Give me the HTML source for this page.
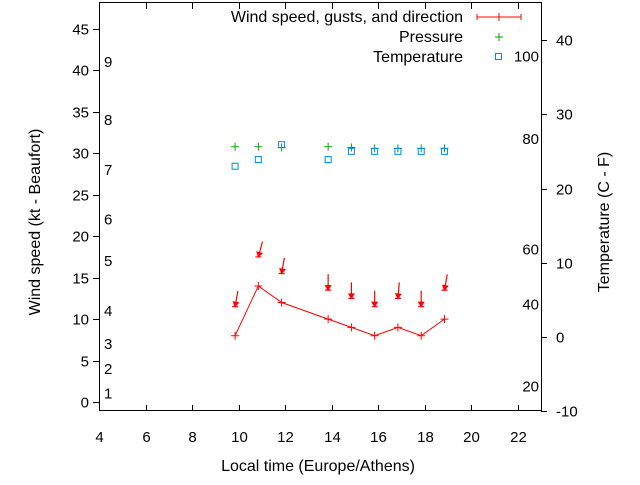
<!DOCTYPE html>
<html><head><meta charset="utf-8"><style>
body{margin:0;background:#fff}
svg text{font-family:"Liberation Sans",sans-serif;font-size:15px;fill:#000}
svg text.big{font-size:16px}
</style></head><body>
<svg id="c" width="640" height="480" xmlns="http://www.w3.org/2000/svg">
<rect x="0" y="0" width="640" height="480" fill="#fff"/>
<g id="axes"></g>
<g id="marks"></g>
<text class="big" x="318" y="471" text-anchor="middle">Local time (Europe/Athens)</text>
<text class="big" transform="translate(40,222) rotate(-90)" text-anchor="middle">Wind speed (kt - Beaufort)</text>
<text class="big" transform="translate(609,222) rotate(-90)" text-anchor="middle">Temperature (C - F)</text>
<g>
<text class="big" x="463" y="22" text-anchor="end">Wind speed, gusts, and direction</text>
<text class="big" x="463" y="42" text-anchor="end">Pressure</text>
<text class="big" x="463" y="62" text-anchor="end">Temperature</text>
<g stroke="#f00" stroke-width="1"><line x1="477" y1="17" x2="521" y2="17"/><line x1="477" y1="14" x2="477" y2="20"/><line x1="521" y1="14" x2="521" y2="20"/><line x1="499" y1="13" x2="499" y2="21"/></g>
<g stroke="#0a0"><line x1="495" y1="37" x2="503" y2="37"/><line x1="499" y1="33" x2="499" y2="41"/></g>
<rect x="495.5" y="53.5" width="6" height="6" fill="none" stroke="#08f"/>
</g>
</svg>
<script>
const times=[9.85,10.85,11.85,13.85,14.85,15.85,16.85,17.85,18.85];
const windKt=[8,14,12,10,9,8,9,8,10];
const gustKt=[11.5,17.5,15.5,13.5,12.5,11.5,12.5,11.5,13.5];
const windDirDeg=[10,15,10,0,0,0,5,0,10];
const pressure=[30.8,30.8,30.7,30.8,30.7,30.6,30.6,30.6,30.6];
const tempC=[23.0,23.9,25.9,23.9,25.0,25.0,25.0,25.0,25.0];
const xTicks=[4,6,8,10,12,14,16,18,20,22];
const yTicks=[0,5,10,15,20,25,30,35,40,45];
const y2Ticks=[-10,0,10,20,30,40];
const beaufortLabels=["1","2","3","4","5","6","7","8","9"];
const beaufortKt=[1,4,7,11,17,22,28,34,41];
const fahrLabels=["20","40","60","80","100"];
const fahrC=[-6.7,4.4,11.8,26.7,37.8];

const L=99,R=541,T=3,B=411;
const X=t=>L+(t-4)*(R-L)/19;
const Y=k=>402-k*(402-29)/45;
const Y2=c=>337-c*(337-40)/40;
const NS="http://www.w3.org/2000/svg";
const ax=document.getElementById('axes'),mk=document.getElementById('marks');
function el(p,tag,a){const e=document.createElementNS(NS,tag);for(const k in a)e.setAttribute(k,a[k]);p.appendChild(e);return e;}
const frame=el(ax,'rect',{x:L+.5,y:T-.5,width:R-L,height:B-T,fill:'none',stroke:'#000'});


xTicks.forEach(t=>{
 const x=Math.round(X(t))+.5;
 const tk=el(ax,'path',{d:`M${x} ${B} v-6 M${x} ${T} v6`,stroke:'#000'});
 
 
 const tx=el(ax,'text',{x:x,y:442,'text-anchor':'middle'});tx.textContent=t;
 
 
});
yTicks.forEach(v=>{
 const y=Math.round(Y(v))+.5;
 const tk=el(ax,'path',{d:`M${L} ${y} h-6`,stroke:'#000'});
 
 
 const tx=el(ax,'text',{x:89,y:y+5,'text-anchor':'end'});tx.textContent=v;
 
 
});
y2Ticks.forEach(v=>{
 const y=Math.round(Y2(v))+.5;
 const tk=el(ax,'path',{d:`M${R} ${y} h6`,stroke:'#000'});
 
 
 const tx=el(ax,'text',{x:556,y:y+5,'text-anchor':'start'});tx.textContent=v;
 
 
});
beaufortLabels.forEach((s,i)=>{
 const tx=el(ax,'text',{x:104,y:Y(beaufortKt[i])+5});tx.textContent=s;
 
 
});
fahrLabels.forEach((s,i)=>{
 const tx=el(ax,'text',{x:539,y:Y2(fahrC[i])+5,'text-anchor':'end'});tx.textContent=s;
 
 
});
const line=el(mk,'polyline',{points:times.map((t,i)=>X(t)+','+Y(windKt[i])).join(' '),fill:'none',stroke:'#f00','stroke-width':1});


times.forEach((t,i)=>{
 const x=X(t),y=Y(windKt[i]);
 const p=el(mk,'path',{d:`M${x-4} ${y}h8M${x} ${y-4}v8`,stroke:'#f00'});
 
 
 const gy=Y(gustKt[i]),a=windDirDeg[i]*Math.PI/180,len=16;
 const tx2=x+Math.sin(a)*len,ty2=gy-Math.cos(a)*len;
 const g=el(mk,'path',{d:`M${tx2} ${ty2}L${x} ${gy}M${x-3} ${gy}h6`,stroke:'#f00',fill:'none','stroke-width':1.2});
 
 
 const hd=el(mk,'path',{d:`M${x-3.5} ${gy-5}L${x} ${gy+1}L${x+3.5} ${gy-5}Z`,fill:'#f00',stroke:'none',transform:`rotate(${windDirDeg[i]} ${x} ${gy})`});
 
 
 const pp=el(mk,'path',{d:`M${x-4} ${Y(pressure[i])}h8M${x} ${Y(pressure[i])-4}v8`,stroke:'#0a0'});
 
 
 const sq=el(mk,'rect',{x:x-3,y:Y2(tempC[i])-3,width:6,height:6,fill:'none',stroke:'#08f'});
 
 
});
</script>
</body></html>
